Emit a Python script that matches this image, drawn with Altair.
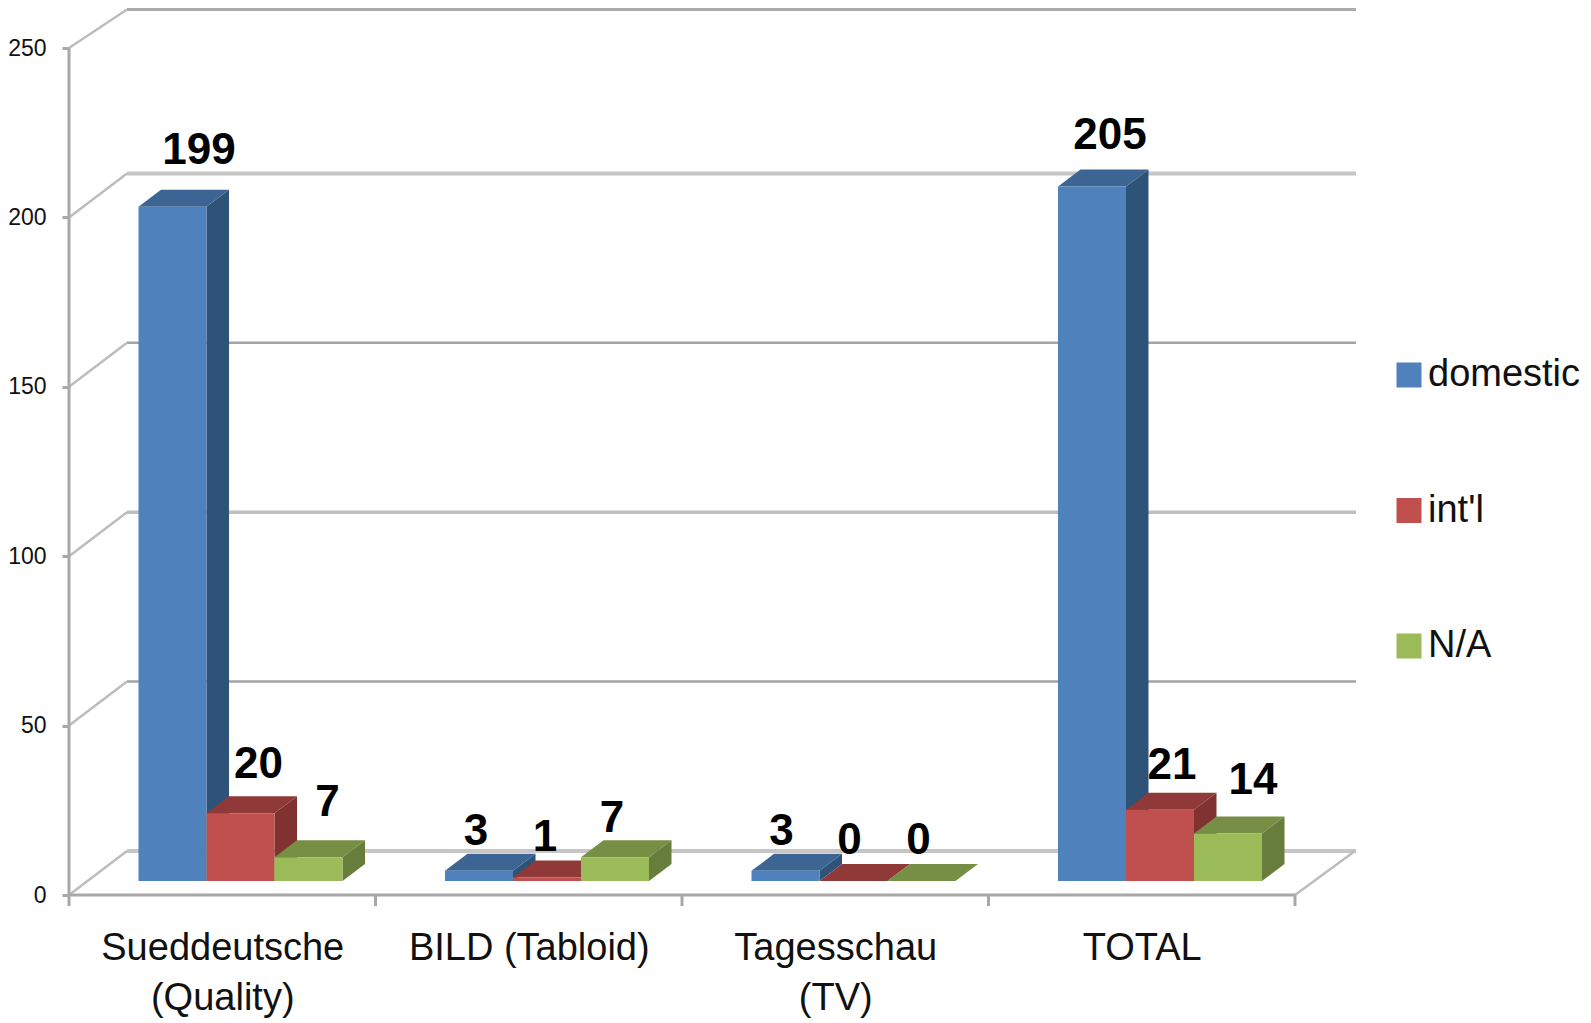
import altair as alt
import pandas as pd

# ---- values
categories = ["Sueddeutsche\n(Quality)", "BILD (Tabloid)", "Tagesschau\n(TV)", "TOTAL"]
series = ["domestic", "int'l", "N/A"]
domestic = [199, 3, 3, 205]
intl = [20, 1, 0, 21]
na = [7, 7, 0, 14]
y_ticks = [0, 50, 100, 150, 200, 250]

# ---- styling
front = ["#4F81BD", "#C0504D", "#9BBB59"]
top_c = ["#3D6593", "#8F3A39", "#768F44"]
side_c = ["#2F5279", "#7F3230", "#677D3B"]
wall_color = {0: "#C6C6C6", 50: "#A3A3A3", 100: "#BEBEBE", 150: "#A3A3A3", 200: "#C6C6C6", 250: "#ABABAB"}
wall_width = {0: 4, 50: 2.5, 100: 3.5, 150: 2.5, 200: 4, 250: 3}
# hand placement of the data labels relative to their bars (px right, px above the bar top)
nudge_x = [[26.5, 18, 19], [-3, -2, -3], [-4, -4, -3], [18, 12, 25]]
nudge_y = [[43, 35, 41], [26, 27, 25], [26, 27, 27], [37, 31, 40]]

# ---- layout (page pixels on x; value units on y)
PX = 3.388            # px per value unit
Y0 = 895              # page y of value 0
AX = 69               # page x of the value axis
GROUP = 306.5         # category width
BAR_OFF = 69.5        # first bar from the category edge
BAR_W = 68
D_X, D_Y = 22.5, 17 / PX        # bar depth
FLOOR = 14 / PX                 # bar foot above value 0
W_X, W_Y = 58, 44 / PX          # chart depth
PAGE_R, PAGE_B = 1583, 1018     # last page pixels the chart can draw on
Y_MAX = (Y0 - 8) / PX
Y_MIN = (Y0 - PAGE_B) / PX
RIGHT = AX + 4 * GROUP

x_scale = alt.Scale(domain=[8, PAGE_R], nice=False, zero=False)
y_scale = alt.Scale(domain=[Y_MIN, Y_MAX], nice=False, zero=False)
y_axis = alt.Axis(values=y_ticks, offset=-(AX - 8), tickSize=7, tickWidth=3, tickColor="#A8A8A8",
                  domain=False, grid=False, title=None, labelFont="Liberation Sans",
                  labelFontSize=23, labelColor="#111111", labelPadding=16)
X = lambda f: alt.X(f, type="quantitative", scale=x_scale, axis=None)
Y = lambda f: alt.Y(f, type="quantitative", scale=y_scale, axis=y_axis, stack=None)

# ---- derived tables
fronts, sides, tops, labels = [], [], [], []
for g, vals in enumerate(zip(domestic, intl, na)):
    for s, v in enumerate(vals):
        x0 = AX + g * GROUP + BAR_OFF + s * BAR_W
        x1 = x0 + BAR_W
        b = FLOOR
        t = FLOOR + v
        name = f"{g}-{s}"
        fronts.append(dict(x=x0, x2=x1, y=b, y2=t, series=series[s]))
        sides += [dict(bar=name, fill=side_c[s], x=x1, y=b, y2=t),
                  dict(bar=name, fill=side_c[s], x=x1 + D_X, y=b + D_Y, y2=t + D_Y)]
        tops += [dict(bar=name, fill=top_c[s], y=t, x=x0, x2=x1),
                 dict(bar=name, fill=top_c[s], y=t + D_Y, x=x0 + D_X, x2=x1 + D_X)]
        labels.append(dict(x=(x0 + x1) / 2 + nudge_x[g][s],
                           y=t + nudge_y[g][s] / PX, text=str(v)))

rules = []
for t in y_ticks:
    wy = min(t + W_Y, Y_MAX - 1.5 / PX)
    rules.append(dict(x=AX + W_X, x2=RIGHT + W_X + 3, y=wy, y2=wy, c=wall_color[t], w=wall_width[t]))
    rules.append(dict(x=AX, x2=AX + W_X, y=t, y2=wy, c="#BDBDBD", w=2.5))
rules.append(dict(x=RIGHT, x2=RIGHT + W_X + 2, y=0, y2=W_Y, c="#BDBDBD", w=2.5))
axis_rules = [dict(x=AX, x2=AX, y=0, y2=250, c="#A8A8A8", w=3),
              dict(x=AX, x2=RIGHT, y=0, y2=0, c="#A8A8A8", w=3)]
for i in range(5):
    xt = AX + i * GROUP
    axis_rules.append(dict(x=xt, x2=xt, y=0, y2=-11 / PX, c="#A8A8A8", w=3))
cats = [dict(x=AX + (i + 0.5) * GROUP + 0.5, y=(Y0 - 960) / PX, text=c) for i, c in enumerate(categories)]


# ---- layers
def rule_layer(rows):
    return alt.Chart(pd.DataFrame(rows)).mark_rule().encode(
        x=X("x"), x2="x2", y=Y("y"), y2="y2",
        color=alt.Color("c:N", scale=None), strokeWidth=alt.StrokeWidth("w:Q", scale=None))


walls = rule_layer(rules)
axes = rule_layer(axis_rules)

side_layer = alt.Chart(pd.DataFrame(sides)).mark_area(opacity=1).encode(
    x=X("x"), y=Y("y"), y2="y2", detail="bar:N", color=alt.Color("fill:N", scale=None))
top_layer = alt.Chart(pd.DataFrame(tops)).mark_area(opacity=1, orient="horizontal").encode(
    y=Y("y"), x=X("x"), x2="x2", detail="bar:N", color=alt.Color("fill:N", scale=None))
front_layer = alt.Chart(pd.DataFrame(fronts)).mark_rect().encode(
    x=X("x"), x2="x2", y=Y("y"), y2="y2",
    color=alt.Color("series:N", scale=alt.Scale(domain=series, range=front),
                    legend=alt.Legend(orient="none", legendX=1382, legendY=348, title=None,
                                      symbolType="square", symbolSize=625, symbolStrokeWidth=0,
                                      labelFont="Liberation Sans", labelFontSize=38,
                                      labelColor="#111111", labelLimit=300, labelOffset=0,
                                      rowPadding=97.5, padding=0)))
label_layer = alt.Chart(pd.DataFrame(labels)).mark_text(
    font="Liberation Sans", fontWeight="bold", fontSize=44, color="#000000",
    align="center", baseline="alphabetic").encode(x=X("x"), y=Y("y"), text="text:N")
cat_layer = alt.Chart(pd.DataFrame(cats)).mark_text(
    font="Liberation Sans", fontSize=38, color="#111111", align="center",
    baseline="alphabetic", lineBreak="\n", lineHeight=50).encode(x=X("x"), y=Y("y"), text="text:N")

chart = alt.layer(walls, axes, side_layer, top_layer, front_layer, label_layer, cat_layer).resolve_scale(
    color="independent"
).properties(
    width=PAGE_R - 8, height=PAGE_B - 8, padding=0, autosize=alt.AutoSizeParams(type="none"), background="white"
).configure_view(stroke=None)

chart.save("out.html", embed_options={"renderer": "svg", "actions": False})
